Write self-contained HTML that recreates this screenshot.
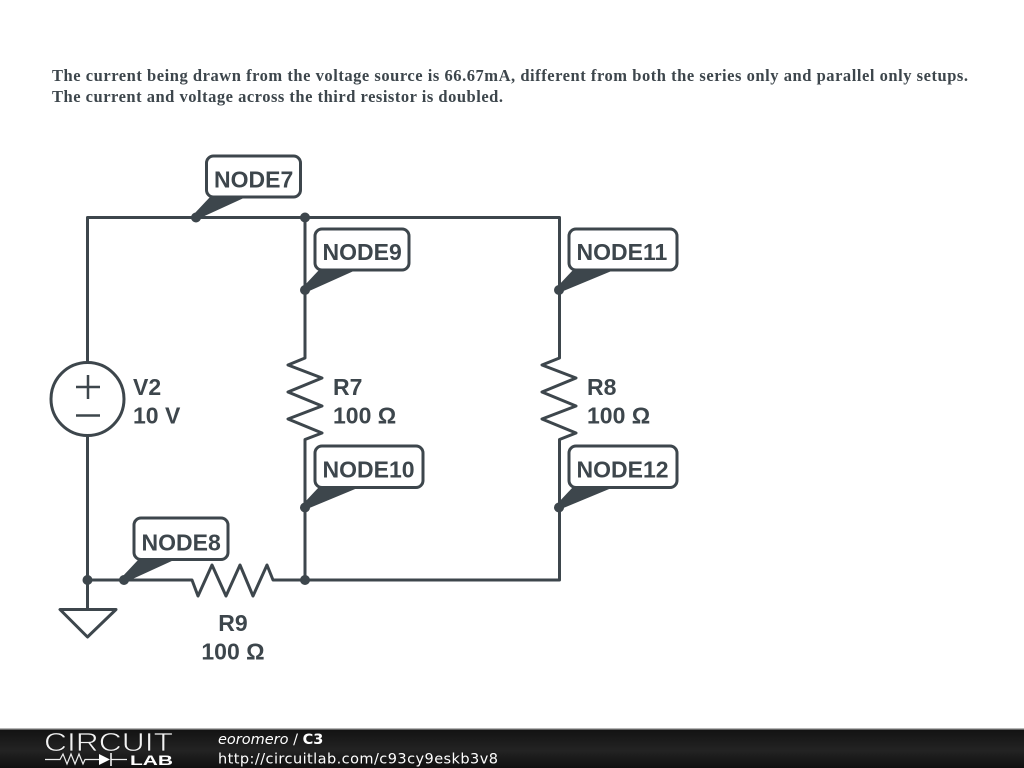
<!DOCTYPE html>
<html><head><meta charset="utf-8"><style>
html,body{margin:0;padding:0;background:#fff;width:1024px;height:768px;overflow:hidden}
svg{display:block}
</style></head><body>
<svg width="1024" height="768" viewBox="0 0 1024 768" xmlns="http://www.w3.org/2000/svg">
<defs>
<linearGradient id="fb" x1="0" y1="0" x2="0" y2="1"><stop offset="0" stop-color="#121212"/><stop offset="0.55" stop-color="#232323"/><stop offset="1" stop-color="#101010"/></linearGradient>
</defs>
<rect width="1024" height="768" fill="#fff"/>
<g font-family="'Liberation Serif',serif" font-weight="bold" font-size="16.500" fill="#3d464c">
<text x="52" y="81" textLength="916">The current being drawn from the voltage source is 66.67mA, different from both the series only and parallel only setups.</text>
<text x="52" y="102" textLength="451">The current and voltage across the third resistor is doubled.</text>
</g>
<g fill="none" stroke="#3d464c" stroke-width="3" stroke-linejoin="round">
<path d="M87.500 362V217.500H559.500V358L542 365L576 378L542 392L576 406L542 419L576 433L559.500 439.500V580H273L267 565L253 596L240 565L226 596L212 565L198 596L192 580H87.500V436"/>
<path d="M305 217.500V358L288 365L322 378L288 392L322 406L288 419L322 433L305 439.500V580"/>
<path d="M87.500 580V609M60 609.500H116L87.500 637Z"/>
<circle cx="87.500" cy="399" r="36.500"/>
<path d="M76 387H100M88 375V399M76 415.500H100" stroke-width="2.500"/>
</g>
<g fill="#fff" stroke="#3d464c" stroke-width="3">
<rect x="206.500" y="156" width="94" height="41" rx="7"/>
<rect x="315" y="229" width="94" height="41" rx="7"/>
<rect x="569" y="229" width="108" height="41" rx="7"/>
<rect x="315" y="446" width="108" height="41.500" rx="7"/>
<rect x="569" y="446" width="108" height="41.500" rx="7"/>
<rect x="134" y="518" width="94" height="41.500" rx="7"/>
</g>
<g fill="#3d464c">
<circle cx="196" cy="217.500" r="5"/><circle cx="305" cy="217.500" r="5"/>
<circle cx="305" cy="290" r="5"/><circle cx="559" cy="290" r="5"/>
<circle cx="305" cy="507.500" r="5"/><circle cx="559" cy="507.500" r="5"/>
<circle cx="87.500" cy="580" r="5"/><circle cx="124" cy="580" r="5"/><circle cx="305" cy="580" r="5"/>
<path d="M194 214L210 197H246L198 219Z"/>
<path d="M303 287L319 270H356L307 292Z"/>
<path d="M557 287L573 270H614L561 292Z"/>
<path d="M303 504L319 487H360L307 509Z"/>
<path d="M557 504L573 487H614L561 509Z"/>
<path d="M122 577L138 560H174L126 582Z"/>
</g>
<g font-family="'Liberation Sans',sans-serif" font-weight="bold" font-size="23" fill="#3d464c">
<text x="214" y="187.500">NODE7</text>
<text x="322.500" y="260">NODE9</text>
<text x="576.500" y="260">NODE11</text>
<text x="322.500" y="477.500">NODE10</text>
<text x="576.500" y="477.500">NODE12</text>
<text x="141.500" y="550.500">NODE8</text>
<text x="133" y="395">V2</text>
<text x="133" y="423.500">10 V</text>
<text x="333" y="395">R7</text>
<text x="333" y="423.500">100 Ω</text>
<text x="587" y="395">R8</text>
<text x="587" y="423.500">100 Ω</text>
<text x="233" y="631" text-anchor="middle">R9</text>
<text x="233" y="659.500" text-anchor="middle">100 Ω</text>
</g>
<rect x="0" y="729" width="1024" height="39" fill="url(#fb)"/>
<rect x="0" y="728" width="1024" height="1.500" fill="#b5b5b5"/>
<text x="44" y="751" font-family="'Liberation Sans',sans-serif" font-size="26" fill="#f2f2f2" stroke="#1a1a1a" stroke-width="0.700" textLength="129" lengthAdjust="spacingAndGlyphs">CIRCUIT</text>
<path d="M45 759.500H60L63 754L67 764L71 754L75 764L79 754L83 764L85 759.500H100M111 759.500H127" fill="none" stroke="#eee" stroke-width="1.200"/>
<path d="M99 754L110 759.500L99 765Z" fill="#fff"/><path d="M111 753V766" stroke="#fff" stroke-width="1.500"/>
<text x="130" y="765" font-family="'Liberation Sans',sans-serif" font-weight="bold" font-size="14" fill="#fff" textLength="43" lengthAdjust="spacingAndGlyphs">LAB</text>
<text x="218" y="744" font-family="'DejaVu Sans',sans-serif" font-size="14.500" fill="#fff"><tspan font-style="italic">eoromero</tspan> / <tspan font-weight="bold">C3</tspan></text>
<text x="218" y="763.500" font-family="'DejaVu Sans',sans-serif" font-size="14.500" fill="#fff" textLength="280">http://circuitlab.com/c93cy9eskb3v8</text>
</svg>
</body></html>
